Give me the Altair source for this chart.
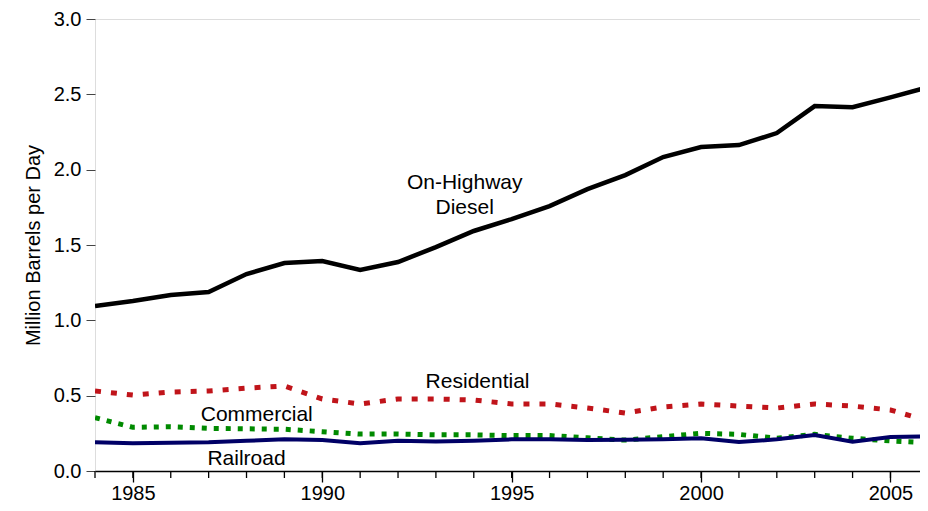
import altair as alt
import pandas as pd

years = list(range(1984, 2007))
diesel = [1.095, 1.128, 1.168, 1.188, 1.307, 1.38, 1.393, 1.334, 1.387, 1.486, 1.593, 1.672,
          1.758, 1.871, 1.964, 2.084, 2.15, 2.163, 2.243, 2.422, 2.415, 2.48, 2.548]
residential = [0.531, 0.504, 0.524, 0.531, 0.55, 0.564, 0.478, 0.445, 0.478, 0.478, 0.471, 0.445,
               0.445, 0.418, 0.385, 0.425, 0.445, 0.431, 0.418, 0.445, 0.431, 0.405, 0.332]
commercial = [0.354, 0.29, 0.294, 0.283, 0.28, 0.277, 0.261, 0.245, 0.245, 0.24, 0.24, 0.235,
              0.235, 0.22, 0.205, 0.228, 0.25, 0.243, 0.217, 0.243, 0.217, 0.2, 0.188]
railroad = [0.19, 0.184, 0.187, 0.19, 0.2, 0.21, 0.205, 0.184, 0.2, 0.195, 0.2, 0.21,
            0.21, 0.205, 0.208, 0.21, 0.217, 0.192, 0.21, 0.239, 0.195, 0.226, 0.23]

series_names = ["On-Highway Diesel", "Residential", "Commercial", "Railroad"]
series_colors = ["#000000", "#c0141a", "#008a00", "#000066"]

label_text = ["On-Highway\nDiesel", "Residential", "Commercial", "Railroad"]
label_year = [1993.76, 1994.1, 1988.27, 1988.0]
label_value = [1.91, 0.59, 0.37, 0.08]

major_years = [1985, 1990, 1995, 2000, 2005]

FONT = "Liberation Sans"
W, H = 825, 452

rows = []
for name, vals in zip(series_names, [diesel, residential, commercial, railroad]):
    for y, v in zip(years, vals):
        rows.append({"year": y, "value": v, "series": name})
df = pd.DataFrame(rows)

xscale = alt.Scale(domain=[1984, 2005.78], nice=False, zero=False)
yscale = alt.Scale(domain=[0, 3.0], nice=False)


def line(name, color, width, dash=None):
    kw = dict(color=color, strokeWidth=width, clip=True)
    if dash:
        kw["strokeDash"] = dash
    return alt.Chart(df).transform_filter(alt.datum.series == name).mark_line(**kw).encode(
        x=alt.X("year:Q", scale=xscale, axis=alt.Axis(
            values=major_years, format="d", title=None, tickSize=11, tickColor="#000",
            domainColor="#000", labelFontSize=20, labelFont=FONT, labelColor="#000",
            labelPadding=1, grid=False, domainWidth=1.3, tickWidth=1.3)),
        y=alt.Y("value:Q", scale=yscale, axis=alt.Axis(
            values=[0, 0.5, 1.0, 1.5, 2.0, 2.5, 3.0], format=".1f",
            title="Million Barrels per Day", titleFontSize=20, titleFont=FONT,
            titleFontWeight="normal", titleColor="#000", titlePadding=10,
            domain=False, tickSize=9, tickColor="#444", labelFontSize=20, labelFont=FONT,
            labelColor="#000", labelPadding=5, grid=False)),
    )


minor = alt.Chart(pd.DataFrame({"year": years[:-1]})).mark_rule(color="#000", strokeWidth=1.3).encode(
    x=alt.X("year:Q", scale=xscale),
    y=alt.value(H),
    y2=alt.value(H + 7),
)

labels = alt.Chart(pd.DataFrame({"text": label_text, "year": label_year, "value": label_value})).mark_text(
    font=FONT, fontSize=21, color="#000", align="center", baseline="middle", lineBreak="\n", lineHeight=25
).encode(
    x=alt.X("year:Q", scale=xscale),
    y=alt.Y("value:Q", scale=yscale),
    text="text:N",
)

chart = alt.layer(
    line("Commercial", series_colors[2], 5, [5, 7]),
    line("Residential", series_colors[1], 5, [6, 10]),
    line("Railroad", series_colors[3], 4),
    line("On-Highway Diesel", series_colors[0], 4.5),
    minor,
    labels,
).properties(
    width=W, height=H,
    autosize=alt.AutoSizeParams(type="none"),
    padding={"left": 87, "top": 11, "right": 0, "bottom": 32},
).configure_view(stroke=None).configure(background="white")

chart.save("out.html", embed_options={"renderer": "svg", "actions": False})
